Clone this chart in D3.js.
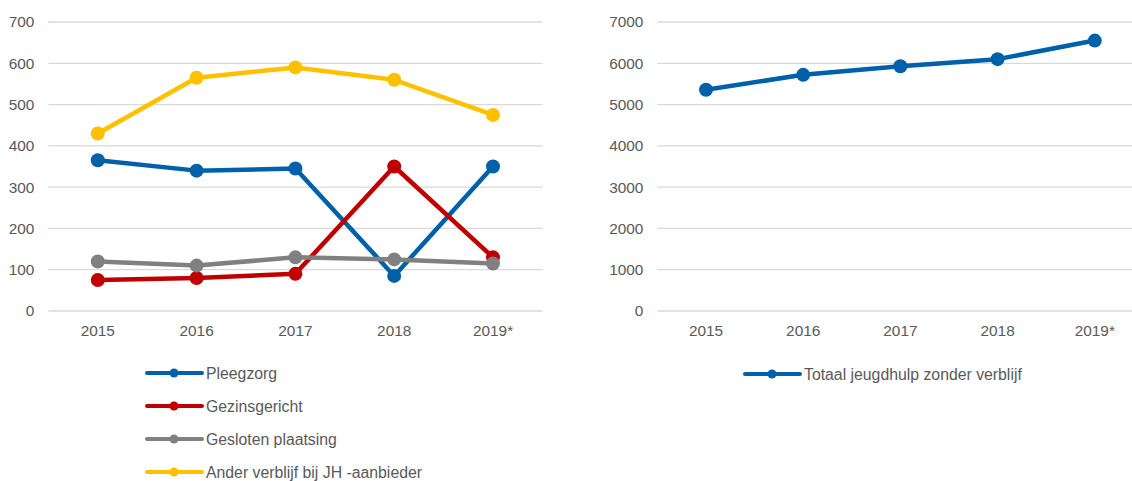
<!DOCTYPE html>
<html>
<head>
<meta charset="utf-8">
<script src="https://cdn.jsdelivr.net/npm/d3@7"></script>
<style>
  body { margin: 0; background: #fff; }
  svg { font-family: "Liberation Sans", Arial, sans-serif; }
  .legend text { fill: #595959; font-size: 15.8px; }
</style>
</head>
<body>
<div id="chart"></div>
<script>
var years = ["2015", "2016", "2017", "2018", "2019*"];
var pleegzorg = [365, 340, 345, 85, 350];
var gezinsgericht = [75, 80, 90, 350, 130];
var gesloten = [120, 110, 130, 125, 115];
var anderVerblijf = [430, 565, 590, 560, 475];
var totaalZonder = [5360, 5720, 5930, 6100, 6550];
var leftTicks = [0, 100, 200, 300, 400, 500, 600, 700];
var rightTicks = [0, 1000, 2000, 3000, 4000, 5000, 6000, 7000];

var leftSeries = [
  { name: "Pleegzorg", values: pleegzorg, color: "#0061aa" },
  { name: "Gezinsgericht", values: gezinsgericht, color: "#c00000" },
  { name: "Gesloten plaatsing", values: gesloten, color: "#808080" },
  { name: "Ander verblijf bij JH -aanbieder", values: anderVerblijf, color: "#ffc000" }
];
var rightSeries = [
  { name: "Totaal jeugdhulp zonder verblijf", values: totaalZonder, color: "#0061aa" }
];

var svg = d3.select("#chart").append("svg")
    .attr("width", 1132)
    .attr("height", 481);

function drawChart(opts) {
  var g = svg.append("g");
  var x = d3.scaleBand().domain(years).range([opts.left, opts.right]);
  var y = d3.scaleLinear().domain([0, opts.max]).range([311, 22]);

  // gridlines
  g.selectAll(".grid")
    .data(opts.ticks)
    .enter().append("line")
      .attr("x1", opts.left)
      .attr("x2", opts.right)
      .attr("y1", function(d) { return y(d); })
      .attr("y2", function(d) { return y(d); })
      .attr("stroke", "#d9d9d9")
      .attr("stroke-width", 1.3);

  var yAxis = g.append("g")
      .attr("transform", "translate(" + (opts.left - 14) + ",0)")
      .call(d3.axisLeft(y).tickValues(opts.ticks).tickFormat(d3.format("d")).tickSize(0).tickPadding(0));
  yAxis.select(".domain").remove();

  var xAxis = g.append("g")
      .attr("transform", "translate(0,311)")
      .call(d3.axisBottom(x).tickSize(0).tickPadding(14));
  xAxis.select(".domain").remove();

  g.selectAll(".tick text")
      .attr("fill", "#595959")
      .style("font-family", "'Liberation Sans', Arial, sans-serif")
      .style("font-size", "15.4px");

  var line = d3.line()
      .x(function(d, i) { return x(years[i]) + x.bandwidth() / 2; })
      .y(function(d) { return y(d); });

  opts.series.forEach(function(s) {
    g.append("path")
      .datum(s.values)
      .attr("fill", "none")
      .attr("stroke", s.color)
      .attr("stroke-width", 4.5)
      .attr("stroke-linejoin", "round")
      .attr("d", line);
    g.selectAll(null)
      .data(s.values)
      .enter().append("circle")
        .attr("cx", function(d, i) { return x(years[i]) + x.bandwidth() / 2; })
        .attr("cy", function(d) { return y(d); })
        .attr("r", 7)
        .attr("fill", s.color);
  });

  var leg = g.append("g").attr("class", "legend");
  opts.series.forEach(function(s, i) {
    var ly = opts.legendY + i * 33;
    leg.append("line")
      .attr("x1", opts.legendX).attr("x2", opts.legendX + 55)
      .attr("y1", ly).attr("y2", ly)
      .attr("stroke", s.color).attr("stroke-width", 4)
      .attr("stroke-linecap", "round");
    leg.append("circle")
      .attr("cx", opts.legendX + 27).attr("cy", ly).attr("r", 4.5)
      .attr("fill", s.color);
    leg.append("text")
      .attr("x", opts.legendX + 59).attr("y", ly)
      .attr("dy", "0.35em")
      .text(s.name);
  });
}

drawChart({ left: 48.4, right: 542.4, max: 700, ticks: leftTicks, series: leftSeries, legendX: 147, legendY: 373 });
drawChart({ left: 657.4, right: 1143.4, max: 7000, ticks: rightTicks, series: rightSeries, legendX: 745, legendY: 374 });
</script>
</body>
</html>
